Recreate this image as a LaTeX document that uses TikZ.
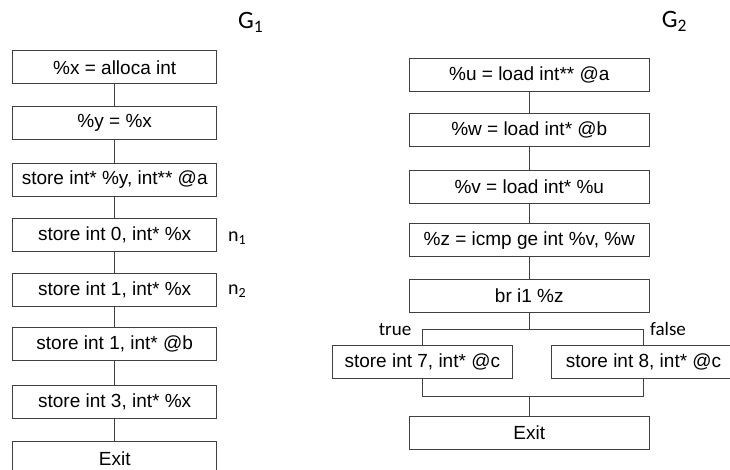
\documentclass[tikz,border=0pt]{standalone}
\usepackage{fontspec}
\setmainfont{Liberation Sans}
\newfontfamily\calfont{Carlito}
\definecolor{edge}{RGB}{64,64,64}
\begin{document}
\begin{tikzpicture}[x=1pt,y=-1pt,
  box/.style={draw=edge,line width=1pt,inner sep=0pt,minimum height=33pt,
    font=\fontsize{19}{21}\selectfont},
  bxa/.style={box,minimum width=204.5pt},
  bxb/.style={box,minimum width=240pt},
  bxc/.style={box,minimum width=180pt},
  link/.style={draw=edge,line width=1pt},
  lab/.style={inner sep=0pt,font=\calfont\fontsize{19}{21}\selectfont},
  nlab/.style={inner sep=0pt,font=\calfont\fontsize{20}{22}\selectfont},
  glab/.style={inner sep=0pt,font=\calfont\fontsize{25}{27}\selectfont}]
\clip (0,0) rectangle (730,469);
% G1
\node[glab,anchor=base west] (g1) at (238,28.3) {G\textsubscript{1}};
\node[bxa] (a1) at (114.7,67.3) {\%x = alloca int};
\node[bxa] (a2) at (114.7,123) {\%y = \%x};
\node[bxa] (a3) at (114.7,180) {store int* \%y, int** @a};
\node[bxa] (a4) at (114.7,234.5) {store int 0, int* \%x};
\node[bxa] (a5) at (114.7,290) {store int 1, int* \%x};
\node[bxa] (a6) at (114.7,344.2) {store int 1, int* @b};
\node[bxa] (a7) at (114.7,402) {store int 3, int* \%x};
\node[bxa] (a8) at (114.7,458.2) {Exit};
\node[nlab,anchor=base west] (n1) at (228,241.5) {n\textsubscript{1}};
\node[nlab,anchor=base west] (n2) at (228,294) {n\textsubscript{2}};
\draw[link] (a1) -- (a2);
\draw[link] (a2) -- (a3);
\draw[link] (a3) -- (a4);
\draw[link] (a4) -- (a5);
\draw[link] (a5) -- (a6);
\draw[link] (a6) -- (a7);
\draw[link] (a7) -- (a8);
% G2
\node[glab,anchor=base west] (g2) at (661.7,27.7) {G\textsubscript{2}};
\node[bxb] (b1) at (529.3,74.5) {\%u = load int** @a};
\node[bxb] (b2) at (529.3,129.7) {\%w = load int* @b};
\node[bxb] (b3) at (529.3,186.7) {\%v = load int* \%u};
\node[bxb] (b4) at (529.3,240.3) {\%z = icmp ge int \%v, \%w};
\node[bxb] (b5) at (529.3,295.8) {br i1 \%z};
\node[bxc] (t) at (422.3,361.5) {store int 7, int* @c};
\node[bxc,minimum width=185pt] (f) at (643.5,361.5) {store int 8, int* @c};
\node[bxb] (b6) at (529.3,432.5) {Exit};
\coordinate (split) at (529.3,329.3);
\coordinate (join) at (529.3,396.7);
\draw[link] (b1) -- (b2);
\draw[link] (b2) -- (b3);
\draw[link] (b3) -- (b4);
\draw[link] (b4) -- (b5);
\draw[link] (b5) -- (split);
\draw[link] (t.north) |- (split) -| (f.north);
\draw[link] (t.south) |- (join) -| (f.south);
\draw[link] (join) -- (b6);
\node[lab,anchor=base] (tl) at (395,335) {true};
\node[lab,anchor=base] (fl) at (668,335) {false};
\end{tikzpicture}
\end{document}
